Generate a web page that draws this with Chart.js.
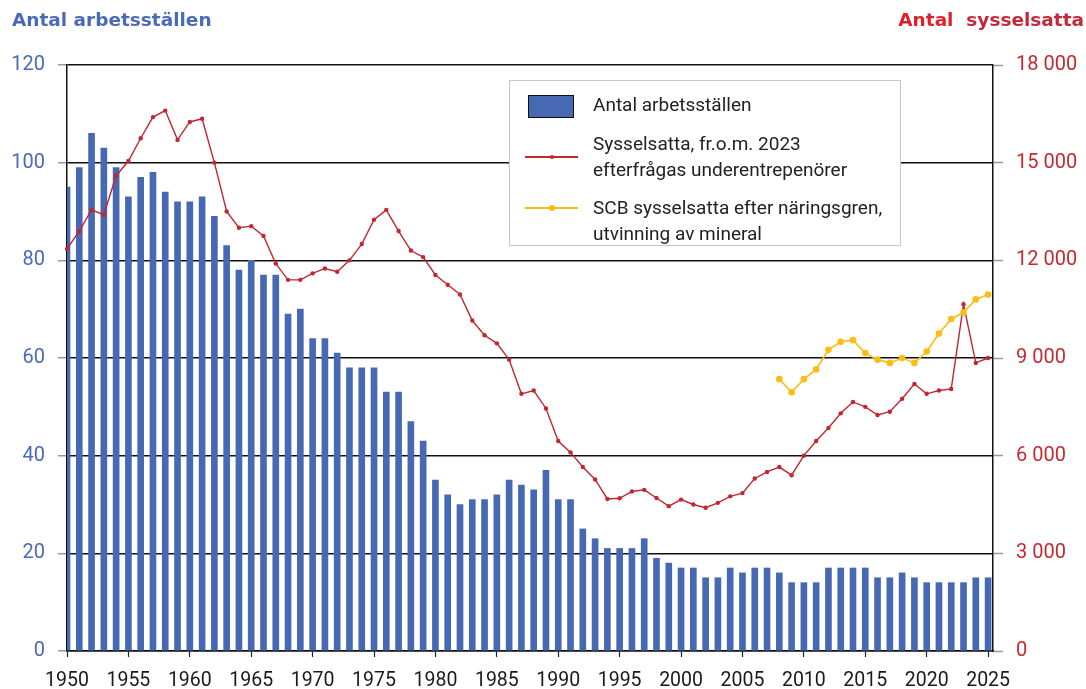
<!DOCTYPE html>
<html>
<head>
<meta charset="utf-8">
<script src="https://cdn.jsdelivr.net/npm/chart.js@4.4.1/dist/chart.umd.min.js"></script>
<style>
  html, body { margin: 0; padding: 0; background: #fff; }
  #wrap { position: relative; width: 1086px; height: 689px; overflow: hidden; }
  canvas { position: absolute; left: 0; top: 0; }
  .ttl { position: absolute; top: 9px; font-family: "DejaVu Sans", sans-serif; font-weight: bold; font-size: 18.5px; white-space: pre; }
  #ttlL { left: 12px; color: #4a6ab8; }
  #ttlR { right: 2px; }
  #legend { position: absolute; left: 509px; top: 80px; width: 392px; height: 166px; border: 1px solid #c8c8c8; background: #fff; box-sizing: border-box; font-family: Roboto, sans-serif; font-size: 19px; color: #222; }
  .lg-text { position: absolute; left: 83px; line-height: 26.5px; white-space: nowrap; }
  .sw-bar { position: absolute; left: 18px; width: 46px; height: 23px; background: #4769b3; border: 1px solid #111; box-sizing: border-box; }
  .sw-line { position: absolute; left: 15px; width: 53px; height: 0; }
  .sw-dot { position: absolute; border-radius: 50%; }
</style>
</head>
<body>
<div id="wrap">
  <canvas id="c" width="1086" height="689"></canvas>
  <div id="ttlL" class="ttl"></div>
  <div id="ttlR" class="ttl"></div>
  <div id="legend"></div>
</div>
<script>
// ---- Data ----
const years = [1950,1951,1952,1953,1954,1955,1956,1957,1958,1959,
  1960,1961,1962,1963,1964,1965,1966,1967,1968,1969,
  1970,1971,1972,1973,1974,1975,1976,1977,1978,1979,
  1980,1981,1982,1983,1984,1985,1986,1987,1988,1989,
  1990,1991,1992,1993,1994,1995,1996,1997,1998,1999,
  2000,2001,2002,2003,2004,2005,2006,2007,2008,2009,
  2010,2011,2012,2013,2014,2015,2016,2017,2018,2019,
  2020,2021,2022,2023,2024,2025];

const arbetsstallen = [95,99,106,103,99,93,97,98,94,92,
  92,93,89,83,78,80,77,77,69,70,
  64,64,61,58,58,58,53,53,47,43,
  35,32,30,31,31,32,35,34,33,37,
  31,31,25,23,21,21,21,23,19,18,
  17,17,15,15,17,16,17,17,16,14,
  14,14,17,17,17,17,15,15,16,15,
  14,14,14,14,15,15];

const sysselsatta = [12350,12900,13550,13400,14600,15050,15750,16400,16600,15700,
  16250,16350,15000,13500,13000,13050,12750,11900,11400,11400,
  11600,11750,11650,12000,12500,13250,13550,12900,12300,12100,
  11550,11250,10950,10150,9700,9450,8950,7900,8000,7450,
  6450,6100,5650,5270,4670,4690,4900,4950,4700,4450,
  4650,4500,4400,4550,4750,4850,5300,5500,5650,5400,
  6000,6450,6850,7300,7650,7500,7250,7350,7750,8200,
  7900,8000,8050,10650,8850,9000];

const scbYears = [2008,2009,2010,2011,2012,2013,2014,2015,2016,2017,2018,2019,2020,2021,2022,2023,2024,2025];
const scbSysselsatta = [8350,7950,8350,8650,9250,9500,9550,9150,8950,8850,9000,8850,9200,9750,10200,10400,10800,10950];

const xTicks = [1950,1955,1960,1965,1970,1975,1980,1985,1990,1995,2000,2005,2010,2015,2020,2025];
const leftTicks = [0,20,40,60,80,100,120];
const rightTicks = [0,3000,6000,9000,12000,15000,18000];
const rightTickLabels = ['0','3 000','6 000','9 000','12 000','15 000','18 000'];

const labelBars = 'Antal arbetsställen';
const labelRed = ['Sysselsatta, fr.o.m. 2023', 'efterfrågas underentrepenörer'];
const labelYellow = ['SCB sysselsatta efter näringsgren,', 'utvinning av mineral'];
const titleLeft = 'Antal arbetsställen';
const titleRightA = 'Antal', titleRightB = 'sysselsatta';

// ---- Colors ----
const BLUE = '#4769b3', RED = '#c1272f', YELLOW = '#fbbd14';

// ---- Titles ----
document.getElementById('ttlL').textContent = titleLeft;
const tr = document.getElementById('ttlR');
const sa = document.createElement('span'); sa.textContent = titleRightA + '  '; sa.style.color = '#e0202a';
const sb = document.createElement('span'); sb.textContent = titleRightB; sb.style.color = '#c4283a';
tr.appendChild(sa); tr.appendChild(sb);

// ---- Legend (HTML) ----
const lg = document.getElementById('legend');
function addText(lines, topPx) {
  const d = document.createElement('div'); d.className = 'lg-text'; d.style.top = topPx + 'px';
  lines.forEach((t, i) => { if (i) d.appendChild(document.createElement('br')); d.appendChild(document.createTextNode(t)); });
  lg.appendChild(d);
}
function addLine(color, y, dotR) {
  const l = document.createElement('div'); l.className = 'sw-line';
  l.style.top = (y - 1) + 'px'; l.style.borderTop = '2px solid ' + color; lg.appendChild(l);
  const dot = document.createElement('div'); dot.className = 'sw-dot';
  dot.style.width = dot.style.height = (dotR * 2) + 'px'; dot.style.background = color;
  dot.style.left = (41.5 - dotR) + 'px'; dot.style.top = (y - dotR) + 'px'; lg.appendChild(dot);
}
const bsw = document.createElement('div'); bsw.className = 'sw-bar'; bsw.style.top = '14px'; lg.appendChild(bsw);
addText([labelBars], 11);
addLine(RED, 76, 2);
addText(labelRed, 49.5);
addLine(YELLOW, 126.5, 3);
addText(labelYellow, 113.5);

// ---- Chart ----
const barData = years.map((y, i) => ({x: y, y: arbetsstallen[i]}));
const redData = years.map((y, i) => ({x: y, y: sysselsatta[i]}));
const yellowData = scbYears.map((y, i) => ({x: y, y: scbSysselsatta[i]}));

new Chart(document.getElementById('c'), {
  data: {
    datasets: [
      { type: 'line', label: labelYellow.join(' '), data: yellowData, yAxisID: 'y1', order: 1,
        borderColor: YELLOW, backgroundColor: YELLOW, borderWidth: 1.6, pointRadius: 3.3,
        pointBackgroundColor: YELLOW, pointBorderWidth: 0, tension: 0, clip: false },
      { type: 'line', label: labelRed.join(' '), data: redData, yAxisID: 'y1', order: 2,
        borderColor: RED, backgroundColor: RED, borderWidth: 1.4, pointRadius: 2.2,
        pointBackgroundColor: RED, pointBorderWidth: 0, tension: 0, clip: false },
      { type: 'bar', label: labelBars, data: barData, yAxisID: 'y', order: 3,
        backgroundColor: BLUE, borderWidth: 0, barThickness: 6, clip: 0 }
    ]
  },
  options: {
    responsive: false,
    animation: false,
    devicePixelRatio: 1,
    layout: { padding: { top: 65, left: 0, right: 0, bottom: 0 } },
    plugins: { legend: { display: false }, tooltip: { enabled: false }, title: { display: false } },
    scales: {
      x: {
        type: 'linear', position: 'bottom', min: 1950, max: 2025.4, offset: false,
        afterFit: s => { s.height = 38; },
        afterBuildTicks: s => { s.ticks = xTicks.map(v => ({ value: v })); },
        ticks: { callback: v => String(v), color: '#1a1a1a', padding: 12, maxRotation: 0, autoSkip: false,
                 font: { family: 'Roboto', size: 19.5 } },
        grid: { offset: false, drawOnChartArea: false, drawTicks: true, tickLength: 6, tickColor: '#222', tickWidth: 1.2 },
        border: { display: true, color: '#111', width: 1.5 }
      },
      y: {
        type: 'linear', position: 'left', min: 0, max: 120,
        afterFit: s => { s.width = 67; },
        afterBuildTicks: s => { s.ticks = leftTicks.map(v => ({ value: v })); },
        ticks: { color: '#4a6ab8', padding: 13, font: { family: 'Roboto', size: 20 } },
        grid: { color: '#111', lineWidth: 1.5, tickColor: '#999', tickLength: 9, tickWidth: 1.5 },
        border: { display: true, color: '#111', width: 1.5 }
      },
      y1: {
        type: 'linear', position: 'right', min: 0, max: 18000,
        afterFit: s => { s.width = 93; },
        afterBuildTicks: s => { s.ticks = rightTicks.map(v => ({ value: v })); },
        ticks: { color: '#c42a30', padding: 13, font: { family: 'Roboto', size: 20 },
                 callback: v => rightTickLabels[rightTicks.indexOf(v)] },
        grid: { drawOnChartArea: false, tickColor: '#999', tickLength: 10, tickWidth: 1.5 },
        border: { display: true, color: '#111', width: 1.5 }
      }
    }
  }
});
</script>
</body>
</html>
